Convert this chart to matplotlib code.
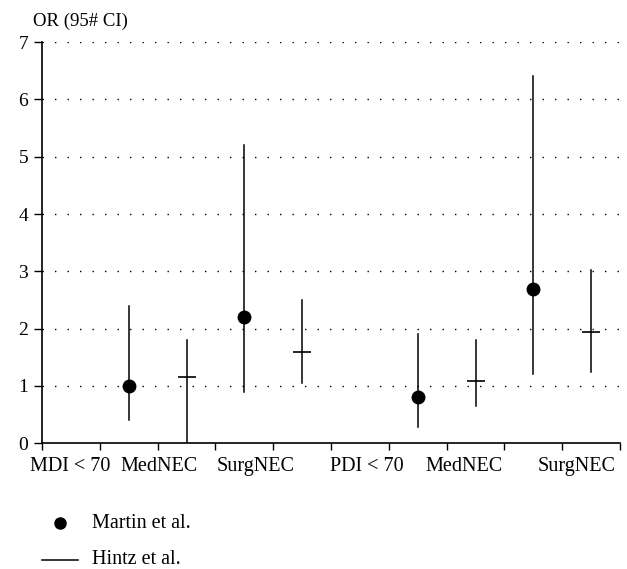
import matplotlib.pyplot as plt

plt.rcParams['font.family'] = ['Liberation Serif', 'DejaVu Serif']

# Martin et al. (dots) and Hintz et al. (horizontal ticks): OR with 95% CI
martin_x = [1.5, 3.5, 6.5, 8.5]
martin_or = [1.0, 2.2, 0.8, 2.7]
martin_lo = [0.4, 0.9, 0.28, 1.2]
martin_hi = [2.4, 5.2, 1.9, 6.4]

hintz_x = [2.5, 4.5, 7.5, 9.5]
hintz_or = [1.15, 1.6, 1.08, 1.95]
hintz_lo = [0.0, 1.05, 0.65, 1.25]
hintz_hi = [1.8, 2.5, 1.8, 3.02]

group_labels = ["MDI < 70", "MedNEC", "SurgNEC", "PDI < 70", "MedNEC", "SurgNEC"]
label_x = [0.48, 2.02, 3.70, 5.61, 7.30, 9.24]

fig = plt.figure(figsize=(6.27, 5.69), dpi=100)
ax = fig.add_axes([0.067, 0.221, 0.922, 0.705])

for x, lo, hi in zip(martin_x, martin_lo, martin_hi):
    ax.plot([x, x], [lo, hi], color="black", lw=1.1)
for x, lo, hi in zip(hintz_x, hintz_lo, hintz_hi):
    ax.plot([x, x], [lo, hi], color="black", lw=1.1)

ax.plot(martin_x, martin_or, "o", color="black", ms=9, ls="none", zorder=3)
ax.plot(hintz_x, hintz_or, "_", color="black", ms=13, mew=1.2, ls="none", zorder=3)

ax.set_xlim(0, 10)
ax.set_ylim(0, 7)
ax.set_xticks(range(0, 11))
ax.set_xticklabels([])
ax.set_yticks(range(0, 8))
ax.tick_params(axis="y", labelsize=14, length=6, width=1, pad=4)
ax.tick_params(axis="x", length=5, width=1)
for y in range(1, 8):
    ax.axhline(y, color="black", lw=1, ls=(0, (1, 8)), zorder=0)

for s in ["top", "right"]:
    ax.spines[s].set_visible(False)
for s in ["left", "bottom"]:
    ax.spines[s].set_linewidth(1.2)

for x, lab in zip(label_x, group_labels):
    ax.text(x, -0.24, lab, ha="center", va="top", fontsize=14.5)

fig.text(0.053, 0.977, "OR (95# CI)", ha="left", va="top", fontsize=13.5)

# legend drawn manually below axes
fig.lines.append(plt.Line2D([0.096], [1 - 523 / 569], marker="o", color="black",
                            ms=8, ls="none", transform=fig.transFigure))
fig.text(0.147, 1 - 523 / 569, "Martin et al.", va="center", fontsize=14.5)
fig.lines.append(plt.Line2D([0.067, 0.125], [1 - 560 / 569] * 2, color="black",
                            lw=1.1, transform=fig.transFigure))
fig.text(0.147, 1 - 560 / 569, "Hintz et al.", va="center", fontsize=14.5)

fig.savefig("out.png", dpi=100)
